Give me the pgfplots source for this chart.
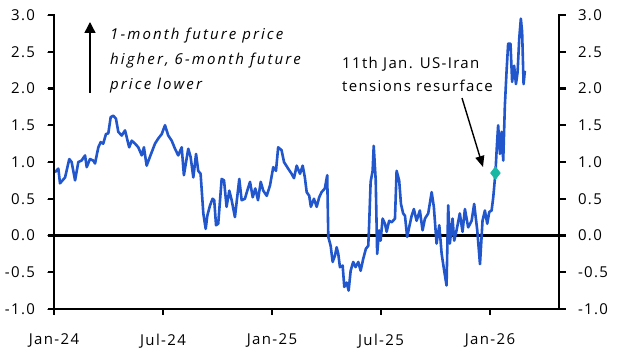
\documentclass[border=0pt]{standalone}
\usepackage{pgfplots}
\usepackage{pgfplotstable}
\pgfplotsset{compat=1.18}
\usetikzlibrary{arrows.meta}
\usepackage{fontspec}
\setmainfont{Open Sans}[LetterSpace=9, ItalicFeatures={LetterSpace=14}]
\definecolor{serblue}{HTML}{2156CC}
\definecolor{markteal}{HTML}{19B8A2}
% x = months since Jan 2024
\pgfplotstableread{
m v
0.05 0.86
0.24 0.91
0.33 0.71
0.61 0.79
0.84 1.04
0.97 1.00
1.16 0.75
1.34 1.00
1.52 1.02
1.71 1.09
1.80 0.93
1.98 1.04
2.16 1.02
2.26 0.98
2.44 1.20
2.57 1.27
2.71 1.25
2.86 1.38
2.99 1.39
3.12 1.61
3.26 1.63
3.41 1.59
3.54 1.41
3.73 1.36
3.91 1.43
4.14 1.20
4.28 1.29
4.46 1.25
4.64 1.20
4.83 1.09
4.95 1.20
5.10 0.95
5.28 1.07
5.56 1.25
5.74 1.32
5.93 1.38
6.11 1.50
6.29 1.36
6.48 1.29
6.66 1.18
6.84 1.09
7.03 1.20
7.15 0.82
7.39 1.18
7.52 1.07
7.67 0.79
7.82 1.11
7.94 0.88
8.07 0.84
8.22 0.30
8.35 0.09
8.44 0.27
8.59 0.41
8.73 0.50
8.82 0.48
8.92 0.14
9.04 0.16
9.23 0.77
9.36 0.75
9.50 0.39
9.65 0.61
9.78 0.48
9.96 0.25
10.20 0.77
10.33 0.48
10.51 0.50
10.64 0.61
10.79 0.73
10.94 0.52
11.08 0.64
11.23 0.48
11.38 0.73
11.52 0.61
11.71 0.54
11.89 0.68
12.07 0.93
12.22 0.88
12.34 1.20
12.53 1.16
12.66 1.00
12.89 0.91
13.08 0.84
13.21 0.78
13.36 0.95
13.54 0.84
13.69 0.95
13.81 0.79
13.91 0.59
14.05 0.54
14.14 0.39
14.31 0.50
14.46 0.39
14.60 0.52
14.73 0.59
14.91 0.64
15.04 0.82
15.10 -0.02
15.23 -0.14
15.34 -0.36
15.47 -0.27
15.56 -0.16
15.65 -0.25
15.74 -0.43
15.89 -0.41
15.98 -0.70
16.11 -0.64
16.22 -0.75
16.33 -0.48
16.47 -0.36
16.60 -0.43
16.75 -0.36
16.88 -0.48
17.02 -0.32
17.17 -0.18
17.30 -0.14
17.35 0.16
17.43 0.73
17.54 0.88
17.60 1.22
17.71 0.75
17.79 -0.25
17.90 0.07
17.98 -0.07
18.09 0.23
18.22 0.16
18.31 0.05
18.45 0.20
18.59 0.18
18.77 0.23
18.86 0.88
19.00 0.75
19.10 0.43
19.22 0.30
19.32 0.27
19.44 -0.02
19.55 0.11
19.69 0.27
19.81 0.36
19.96 0.20
20.14 0.34
20.29 0.07
20.42 0.23
20.60 0.30
20.79 0.59
20.91 0.39
21.06 -0.11
21.21 0.14
21.34 -0.25
21.48 -0.48
21.61 -0.68
21.70 0.41
21.79 -0.11
21.94 0.23
22.03 -0.07
22.16 0.07
22.34 0.30
22.49 0.05
22.62 0.36
22.80 0.11
22.99 0.20
23.13 0.43
23.30 0.07
23.45 -0.39
23.59 0.20
23.72 0.34
23.85 0.16
23.96 0.32
24.09 0.34
24.18 0.52
24.30 0.85
24.38 1.22
24.45 1.50
24.55 1.11
24.64 1.41
24.73 1.02
24.82 1.77
24.91 2.22
25.00 2.61
25.13 2.61
25.22 2.09
25.33 2.31
25.43 2.06
25.52 2.22
25.61 2.68
25.70 2.95
25.77 2.77
25.85 2.06
25.92 2.24
}\spread
\begin{document}
\begin{tikzpicture}
\useasboundingbox (0,0) rectangle (628bp,360bp);
\pgfplotsset{
  base/.style={
    scale only axis, width=505bp, height=294bp,
    at={(54bp,51bp)}, anchor=south west,
    xmin=0, xmax=27.8, ymin=-1, ymax=3,
    ytick={-1,-0.5,0,0.5,1,1.5,2,2.5,3},
    /pgf/number format/assume math mode=true,
    yticklabel style={/pgf/number format/fixed, /pgf/number format/fixed zerofill, /pgf/number format/precision=1},
    tick label style={font=\fontsize{15bp}{18bp}\selectfont, black},
    tick align=outside,
    major tick length=6.5bp,
    clip=false,
  }
}
\begin{axis}[base,
  axis x line*=bottom, axis y line*=left,
  xtick={0,6,12,18,24},
  xticklabels={Jan-24,Jul-24,Jan-25,Jul-25,Jan-26},
  xticklabel style={yshift=-15bp},
  yticklabel style={xshift=-9bp},
]
\draw[black, line width=2.8bp] (axis cs:0,0) -- (axis cs:27.8,0);
\addplot[serblue, line width=2.6bp, line join=round, mark=none] table[x=m, y=v] {\spread};
\addplot[only marks, mark=diamond*, mark size=6.5bp, markteal, draw=markteal, line width=0.5bp] coordinates {(24.30,0.85)};
\end{axis}
\begin{axis}[base,
  axis x line=none, axis y line*=right,
  yticklabel style={xshift=9bp},
]
\addplot[draw=none] coordinates {(0,0)};
\end{axis}
% thick axis frame and tick marks as filled bars (axis box: x 54..559bp, y 51..345bp)
\fill[black] (52.6bp,49.6bp) rectangle (55.4bp,346.2bp);
\fill[black] (557.6bp,49.6bp) rectangle (560.4bp,346.2bp);
\fill[black] (52.6bp,49.6bp) rectangle (560.4bp,52.4bp);
% left ticks
\fill[black] (47.5bp,49.8bp) rectangle (54bp,52.2bp);
\fill[black] (47.5bp,86.55bp) rectangle (54bp,88.95bp);
\fill[black] (47.5bp,123.3bp) rectangle (54bp,125.7bp);
\fill[black] (47.5bp,160.05bp) rectangle (54bp,162.45bp);
\fill[black] (47.5bp,196.8bp) rectangle (54bp,199.2bp);
\fill[black] (47.5bp,233.55bp) rectangle (54bp,235.95bp);
\fill[black] (47.5bp,270.3bp) rectangle (54bp,272.7bp);
\fill[black] (47.5bp,307.05bp) rectangle (54bp,309.45bp);
\fill[black] (47.5bp,343.8bp) rectangle (54bp,346.2bp);
% right ticks
\fill[black] (559bp,49.8bp) rectangle (565.5bp,52.2bp);
\fill[black] (559bp,86.55bp) rectangle (565.5bp,88.95bp);
\fill[black] (559bp,123.3bp) rectangle (565.5bp,125.7bp);
\fill[black] (559bp,160.05bp) rectangle (565.5bp,162.45bp);
\fill[black] (559bp,196.8bp) rectangle (565.5bp,199.2bp);
\fill[black] (559bp,233.55bp) rectangle (565.5bp,235.95bp);
\fill[black] (559bp,270.3bp) rectangle (565.5bp,272.7bp);
\fill[black] (559bp,307.05bp) rectangle (565.5bp,309.45bp);
\fill[black] (559bp,343.8bp) rectangle (565.5bp,346.2bp);
% bottom ticks
\fill[black] (52.8bp,44.5bp) rectangle (55.2bp,51bp);
\fill[black] (161.8bp,44.5bp) rectangle (164.2bp,51bp);
\fill[black] (270.8bp,44.5bp) rectangle (273.2bp,51bp);
\fill[black] (379.8bp,44.5bp) rectangle (382.2bp,51bp);
\fill[black] (488.8bp,44.5bp) rectangle (491.2bp,51bp);
% annotations
\draw[line width=1.4bp, -{Triangle[length=11bp,width=11bp]}] (90bp,267bp) -- (90bp,338bp);
\begin{scope}[every node/.style={anchor=base west, inner sep=0pt, font=\itshape\fontsize{15bp}{18bp}\selectfont}]
\node at (110bp,320.5bp) {1-month future price};
\node at (110bp,295.5bp) {higher, 6-month future};
\node at (110bp,270.5bp) {price lower};
\end{scope}
\begin{scope}[every node/.style={anchor=base west, inner sep=0pt, font=\fontsize{15bp}{18bp}\selectfont}]
\node at (342bp,291.5bp) {11th Jan. US-Iran};
\node at (342bp,268bp) {tensions resurface};
\end{scope}
\draw[line width=1.4bp, -{Triangle[length=11bp,width=9bp]}] (462bp,262bp) -- (483bp,193bp);
\end{tikzpicture}
\end{document}
